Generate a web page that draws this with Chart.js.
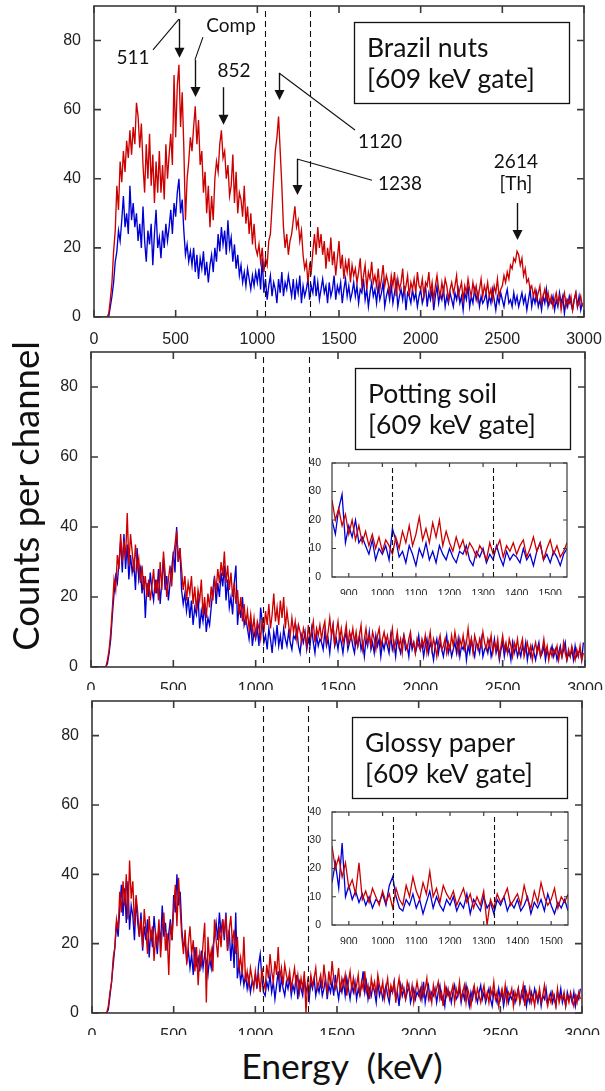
<!DOCTYPE html>
<html>
<head>
<meta charset="utf-8">
<script src="https://cdn.jsdelivr.net/npm/chart.js@4.4.1/dist/chart.umd.min.js"></script>
<style>
  html, body { margin: 0; padding: 0; background: #fff; }
  #page { position: relative; width: 605px; height: 1091px; overflow: hidden; }
  canvas { position: absolute; }
  .title { position: absolute; font-family: Lato, 'Open Sans', sans-serif; color: #111; text-align: center; white-space: pre; }
</style>
</head>
<body>
<div id="page">
  <canvas id="c1" width="565" height="345" style="left:40px;top:0px"></canvas>
  <canvas id="c2" width="565" height="345" style="left:40px;top:345px"></canvas>
  <canvas id="c3" width="565" height="345" style="left:40px;top:690px"></canvas>
  <canvas id="i2" width="275" height="140" style="left:300px;top:455px"></canvas>
  <canvas id="i3" width="275" height="140" style="left:300px;top:804px"></canvas>
  <div class="title" id="ytitle" style="left:-175px;top:474px;width:400px;height:44px;line-height:44px;font-size:36.5px;transform:rotate(-90deg)">Counts per channel</div>
  <div class="title" id="xtitle" style="left:142px;top:1044px;width:400px;height:44px;line-height:44px;font-size:35.5px">Energy  (keV)</div>
</div>
<script>
// 10 keV channels, 0 .. 2990 keV
const energies = Array.from({ length: 300 }, (_, i) => i * 10);

const brazilRed = [
  0,0,0,0,0,0,0,0,0,1, 5,10,19,25,38,31,45,39,48,42,
  51,46,54,47,55,50,62,58,49,56, 44,36,50,40,53,38,47,33,45,36,
  48,36,44,34,50,40,47,53,44,70, 52,67,73,55,65,49,28,40,45,52,
  48,55,61,50,57,44,48,36,42,30, 38,26,35,28,40,45,42,50,54,46,
  48,40,44,35,38,47,33,42,30,36, 34,29,38,27,32,24,30,21,27,20,
  18,21,16,20,13,17,15,22,24,32, 40,48,52,58,48,38,26,20,24,18,
  22,24,28,32,26,28,22,25,18,14, 16,10,15,13,19,24,18,26,20,24,
  18,22,14,20,16,23,15,19,12,17, 22,14,18,11,16,13,17,10,15,12,
  14,10,13,17,9,12,15,8,13,11, 16,10,12,9,14,8,11,15,9,12,
  10,7,12,9,13,6,11,8,10,14, 7,9,12,6,10,8,11,7,13,9,
  8,11,6,10,9,13,7,10,5,9, 12,8,6,10,7,11,9,5,8,10,
  7,9,12,6,8,10,5,9,7,11, 8,6,10,7,9,5,8,11,6,9,
  7,10,6,8,5,9,7,11,6,8, 9,12,10,13,11,15,14,17,16,19,
  18,15,17,12,14,10,11,8,9,6, 8,5,7,9,4,6,8,5,7,4,
  6,3,5,7,4,6,2,5,7,3, 5,4,6,2,5,7,3,4,6,3
];
const brazilBlue = [
  0,0,0,0,0,0,0,0,0,0, 3,6,10,16,19,25,22,28,35,26,
  30,24,38,28,33,26,30,22,27,20, 32,22,16,25,21,27,15,24,31,20,
  23,17,25,20,27,22,26,31,24,33, 29,36,40,30,34,25,18,21,16,19,
  15,20,13,18,11,17,14,19,12,16, 10,15,18,13,20,16,24,19,26,21,
  25,18,28,20,23,16,21,14,18,12, 15,10,13,9,14,11,8,12,9,13,
  10,14,8,17,7,11,5,9,12,6, 10,8,4,11,7,13,6,10,8,12,
  9,6,11,5,10,7,12,4,9,6, 8,11,5,9,7,12,6,10,5,8,
  11,7,9,4,10,6,8,12,5,9, 7,10,4,8,11,6,9,5,7,10,
  6,9,4,8,7,11,5,8,3,7, 10,6,8,4,9,5,7,10,3,6,
  8,5,9,4,7,10,3,6,8,5, 9,2,7,6,4,8,5,7,3,6,
  8,4,6,9,3,7,5,8,2,6, 9,4,7,5,8,3,6,4,7,5,
  3,7,5,8,4,6,2,7,5,9, 3,6,4,8,5,7,3,6,4,5,
  7,3,6,4,8,5,2,6,4,7, 5,3,6,8,4,5,3,7,4,6,
  3,5,7,4,6,2,5,8,3,6, 4,7,3,5,2,6,4,8,3,5,
  4,6,2,5,3,7,4,6,1,5, 3,6,4,2,5,7,3,6,2,4
];
const soilRed = [
  0,0,0,0,0,0,0,0,0,0, 2,5,10,17,25,22,32,28,38,30,
  36,31,44,29,38,33,27,35,28,31, 24,29,22,26,20,25,19,23,28,21,
  25,19,30,22,33,27,20,25,29,23, 31,35,39,30,34,28,22,26,19,24,
  21,26,18,23,16,22,19,25,15,20, 14,21,17,23,19,25,22,28,24,30,
  26,33,24,29,22,27,20,24,18,22, 15,20,13,18,12,16,11,15,10,14,
  9,13,11,8,14,10,16,12,18,11, 15,21,13,17,12,19,14,20,11,16,
  12,9,14,10,13,8,12,10,7,11, 9,6,12,8,10,13,7,11,9,12,
  8,11,13,7,10,14,9,12,6,10, 13,8,11,7,9,12,6,10,8,11,
  7,10,6,9,12,5,8,11,7,9, 6,10,8,5,9,11,6,8,10,7,
  9,6,8,11,5,7,10,6,8,4, 9,7,5,8,10,6,7,4,8,6,
  5,8,6,9,4,7,10,5,8,6, 3,7,9,5,6,8,4,7,5,9,
  6,10,7,4,8,6,9,5,7,11, 6,8,4,9,7,5,8,6,10,7,
  5,8,6,9,4,7,5,8,3,6, 9,5,7,4,8,6,3,7,5,8,
  4,6,8,3,5,7,4,6,2,5, 7,4,6,3,5,8,4,6,2,5,
  3,5,4,6,2,5,3,7,4,2, 5,3,6,4,2,5,3,6,2,4
];
const soilBlue = [
  0,0,0,0,0,0,0,0,0,0, 1,4,8,15,21,26,24,30,36,27,
  38,28,35,25,32,27,30,22,34,25, 28,21,26,14,24,20,27,22,19,25,
  21,28,18,24,31,22,26,19,24,28, 33,27,40,30,34,22,18,21,16,20,
  14,19,12,17,15,20,11,16,13,18, 10,14,12,17,22,26,18,24,20,27,
  23,29,19,25,17,20,15,24,29,12, 18,14,20,12,14,11,8,13,6,10,
  8,11,6,17,13,7,9,5,11,8, 4,10,7,12,6,9,5,11,8,6,
  10,7,5,9,8,11,6,4,9,7, 10,5,8,6,11,7,4,9,6,8,
  7,5,10,6,8,4,9,12,6,8, 5,9,7,4,8,10,5,7,9,6,
  4,8,6,9,5,7,3,8,6,10, 5,7,4,9,6,8,3,7,5,8,
  6,4,9,5,7,3,8,6,4,7, 9,5,6,3,8,5,7,4,6,9,
  5,7,3,6,8,4,7,5,2,6, 8,4,7,5,3,6,9,4,6,3,
  5,7,4,8,3,6,5,7,2,6, 4,8,5,3,7,6,4,8,3,5,
  6,4,7,3,5,8,4,6,2,5, 7,3,6,4,5,2,7,4,6,3,
  5,3,6,4,7,2,5,3,6,4, 2,5,7,3,4,6,2,5,3,4,
  6,3,5,2,4,6,3,5,7,2, 4,3,5,2,6,3,4,5,2,7
];
const paperRed = [
  0,0,0,0,0,0,0,0,0,0, 2,6,9,16,19,27,24,35,29,38,
  31,40,27,44,33,38,25,34,29,22, 27,19,30,24,17,28,21,25,15,23,
  20,27,16,24,29,18,23,11,26,21, 30,37,25,39,30,22,17,24,14,20,
  25,17,21,12,19,8,17,14,20,26, 3,22,15,18,12,27,21,16,25,19,
  27,23,28,18,24,28,20,24,17,22, 13,16,11,22,9,12,8,13,10,7,
  12,8,11,6,13,9,7,14,10,17, 12,9,15,11,19,10,13,8,14,11,
  9,12,7,10,13,8,11,6,10,7, 12,0,9,6,11,8,10,13,7,9,
  11,7,14,9,6,12,8,15,10,7, 9,13,6,10,8,11,5,9,12,7,
  10,6,8,11,5,9,7,12,6,8, 4,10,7,9,5,11,8,6,9,4,
  7,10,5,8,6,9,3,7,10,5, 8,6,4,9,7,5,8,3,6,9,
  6,4,8,5,7,10,4,6,3,8, 5,7,9,4,6,2,8,5,7,4,
  6,8,3,7,5,9,4,6,8,3, 7,5,2,6,8,4,7,5,3,6,
  8,4,6,3,7,5,9,4,6,2, 5,7,4,8,3,6,5,7,2,6,
  4,7,3,5,8,2,6,4,7,3, 5,2,6,4,7,3,5,8,4,2,
  5,3,6,4,2,7,3,5,4,6, 2,5,3,6,4,2,5,3,6,4
];
const paperBlue = [
  0,0,0,0,0,0,0,0,0,0, 1,5,9,14,19,26,22,30,37,28,
  36,26,38,24,31,28,21,33,26,22, 29,18,25,21,27,16,24,19,28,22,
  17,25,20,31,22,26,18,23,27,21, 34,29,40,31,35,24,19,21,15,18,
  13,17,11,19,14,16,12,18,13,17, 15,11,16,13,19,22,26,21,29,23,
  27,21,29,18,24,15,22,13,29,10, 14,9,12,8,11,7,10,6,9,8,
  11,7,14,17,10,6,5,9,7,11, 6,9,4,8,12,6,10,7,5,9,
  7,10,5,8,6,11,4,9,7,5, 10,6,8,4,9,7,10,5,8,6,
  9,5,7,10,4,8,6,9,5,11, 7,4,8,6,9,5,10,7,4,8,
  6,9,4,7,5,8,12,6,9,4, 7,5,8,6,3,9,5,7,4,6,
  8,5,3,7,6,9,4,6,2,8, 5,7,4,6,8,3,5,7,4,6,
  5,7,4,9,3,6,8,4,6,5, 7,3,6,8,4,5,2,7,5,6,
  3,6,8,4,5,7,3,6,4,8, 5,2,6,4,7,5,3,6,8,4,
  6,3,5,7,4,2,6,5,3,7, 4,6,2,5,7,3,5,4,6,3,
  5,7,3,6,4,8,2,5,3,6, 4,7,5,3,6,2,5,4,7,3,
  4,6,3,5,2,6,4,7,3,5, 2,6,4,5,3,6,2,5,4,7
];

const xTicks = [0, 500, 1000, 1500, 2000, 2500, 3000];
const yTicks = [0, 20, 40, 60, 80];
const insetXTicks = [900, 1000, 1100, 1200, 1300, 1400, 1500];
const insetYTicks = [0, 10, 20, 30, 40];
const gateMain = [1045, 1322];
const gateInset = [1030, 1330];
const gateText = '[609 keV gate]';

// peak annotations for the Brazil nuts panel, in keV / counts
const peakNotes = [
  { lines: ['511'],  at: [239, 73.2], lead: [[361, 77.3], [520, 86.2]], arrow: [520, 86.2, 75] },
  { lines: ['Comp'], at: [839, 82.5], lead: [[667, 81.0], [618, 74.4]], arrow: [618, 74.4, 63.7] },
  { lines: ['852'],  at: [857, 69.4], lead: [], arrow: [790, 66.5, 55.6] },
  { lines: ['1120'], at: [1751, 48.9], lead: [[1598, 54.1], [1133, 70.6]], arrow: [1133, 70.6, 62.8] },
  { lines: ['1238'], at: [1873, 36.7], lead: [[1702, 39.6], [1243, 45.7]], arrow: [1243, 45.7, 35.3] },
  { lines: ['2614', '[Th]'], at: [2583, 43.1], lead: [], arrow: [2590, 33.0, 22.3] }
];

const RED = '#cc0000';
const BLUE = '#0000d4';
const TICK_FONT = "'Liberation Sans', Arial, sans-serif";
const NOTE_FONT = "Lato, 'Open Sans', sans-serif";

const pts = (vals, lo = -Infinity, hi = Infinity) =>
  vals.map((v, i) => ({ x: energies[i], y: v })).filter(p => p.x >= lo && p.x <= hi);

// Plugin: gate lines, frame, inward ticks, label box and peak notes
const decorPlugin = {
  id: 'decor',
  afterDatasetsDraw(ch, _args, o) {
    const { ctx: c, chartArea: a, scales: { x, y } } = ch;
    c.save();

    c.strokeStyle = '#111';
    c.lineWidth = o.gateWidth;
    c.setLineDash(o.dash);
    o.gates.forEach(g => {
      const px = Math.round(x.getPixelForValue(g)) + 0.5;
      c.beginPath();
      c.moveTo(px, a.top + o.gateGap);
      c.lineTo(px, a.bottom);
      c.stroke();
    });
    c.setLineDash([]);

    c.strokeStyle = '#3a3a3a';
    c.lineWidth = o.frameWidth;
    c.strokeRect(a.left, a.top, a.width, a.height);
    c.beginPath();
    x.ticks.forEach(t => {
      const px = x.getPixelForValue(t.value);
      c.moveTo(px, a.bottom); c.lineTo(px, a.bottom - o.tick);
      c.moveTo(px, a.top); c.lineTo(px, a.top + o.tick);
    });
    y.ticks.forEach(t => {
      const py = y.getPixelForValue(t.value);
      c.moveTo(a.left, py); c.lineTo(a.left + o.tick, py);
      c.moveTo(a.right, py); c.lineTo(a.right - o.tick, py);
    });
    c.stroke();

    if (o.box) {
      const b = o.box;
      const bx = a.right - b.right, by = a.top + b.top;
      c.fillStyle = '#fff';
      c.fillRect(bx, by, b.w, b.h);
      c.strokeStyle = '#111';
      c.lineWidth = 1.3;
      c.strokeRect(bx + 0.5, by + 0.5, b.w, b.h);
      c.fillStyle = '#111';
      c.font = b.font;
      c.textAlign = 'left';
      c.textBaseline = 'alphabetic';
      b.lines.forEach((s, i) => c.fillText(s, bx + b.pad, by + b.base + i * b.gap));
    }

    if (o.notes) {
      c.strokeStyle = '#111';
      c.fillStyle = '#111';
      c.lineWidth = 1.1;
      c.font = o.noteFont;
      c.textAlign = 'center';
      c.textBaseline = 'alphabetic';
      o.notes.forEach(n => {
        const [tx, ty] = n.at;
        n.lines.forEach((s, i) => c.fillText(s, x.getPixelForValue(tx), y.getPixelForValue(ty) + i * 22));
        if (n.lead.length) {
          c.beginPath();
          n.lead.forEach(([e, v], i) => {
            const px = x.getPixelForValue(e), py = y.getPixelForValue(v);
            i ? c.lineTo(px, py) : c.moveTo(px, py);
          });
          c.stroke();
        }
        const [ae, a0, a1] = n.arrow;
        const ax = Math.round(x.getPixelForValue(ae)) + 0.5;
        const y0 = y.getPixelForValue(a0), y1 = y.getPixelForValue(a1);
        c.lineWidth = 1.4;
        c.beginPath(); c.moveTo(ax, y0); c.lineTo(ax, y1 - 8); c.stroke();
        c.beginPath(); c.moveTo(ax - 5, y1 - 10); c.lineTo(ax + 5, y1 - 10); c.lineTo(ax, y1); c.closePath(); c.fill();
        c.lineWidth = 1.1;
      });
    }
    c.restore();
  }
};

function lineSet(data, color, width) {
  return { data, borderColor: color, borderWidth: width, pointRadius: 0, tension: 0, fill: false };
}

function buildChart(id, red, blue, cfg) {
  return new Chart(document.getElementById(id), {
    type: 'line',
    plugins: [decorPlugin],
    data: {
      datasets: [lineSet(red, RED, cfg.lw), lineSet(blue, BLUE, cfg.lw)]
    },
    options: {
      responsive: false,
      animation: false,
      events: [],
      layout: { padding: { top: cfg.padTop, right: cfg.padRight, left: 0, bottom: 0 } },
      plugins: {
        legend: { display: false },
        tooltip: { enabled: false },
        decor: cfg.decor
      },
      scales: {
        x: {
          type: 'linear',
          min: cfg.xMin, max: cfg.xMax,
          afterBuildTicks: s => { s.ticks = cfg.xTicks.map(v => ({ value: v })); },
          afterFit: s => { s.height = cfg.xHeight; s.paddingLeft = 0; s.paddingRight = 0; },
          ticks: {
            autoSkip: false, maxRotation: 0,
            padding: cfg.xPad,
            color: '#222',
            font: { family: TICK_FONT, size: cfg.fontSize },
            callback: v => String(v)
          },
          grid: { display: false },
          border: { display: false }
        },
        y: {
          min: cfg.yMin, max: cfg.yMax,
          afterBuildTicks: s => { s.ticks = cfg.yTicks.map(v => ({ value: v })); },
          afterFit: s => { s.width = cfg.yWidth; s.paddingTop = 0; s.paddingBottom = 0; },
          ticks: {
            padding: cfg.yPad,
            color: '#222',
            font: { family: TICK_FONT, size: cfg.fontSize },
            callback: v => String(v)
          },
          grid: { display: false },
          border: { display: false }
        }
      }
    }
  });
}

function mainCfg(padTop, padRight, xHeight, yWidth, boxLines, notes) {
  return {
    lw: 1.35, padTop, padRight, xHeight, yWidth,
    xMin: 0, xMax: 3000, yMin: 0, yMax: 90,
    xTicks, yTicks, xPad: 5, yPad: 5, fontSize: 16,
    decor: {
      gates: gateMain, dash: [6, 4], gateWidth: 1.1, gateGap: 5,
      frameWidth: 1.6, tick: 7,
      box: { lines: boxLines, right: 230, top: 16, w: 215, h: 81, pad: 13, base: 35, gap: 31, font: "26.5px Lato, 'Open Sans', sans-serif" },
      notes, noteFont: '19px ' + NOTE_FONT
    }
  };
}

function insetCfg(padTop, padRight, xHeight) {
  return {
    lw: 1.3, padTop, padRight, xHeight, yWidth: 32,
    xMin: 850, xMax: 1550, yMin: 0, yMax: 40,
    xTicks: insetXTicks, yTicks: insetYTicks, xPad: 3, yPad: 3, fontSize: 10.5,
    decor: { gates: gateInset, dash: [5, 3], gateWidth: 1.1, gateGap: 5, frameWidth: 1.2, tick: 4 }
  };
}

buildChart('c1', pts(brazilRed), pts(brazilBlue), mainCfg(6, 21, 28, 54, ['Brazil nuts', gateText], peakNotes));
buildChart('c2', pts(soilRed), pts(soilBlue), mainCfg(7, 20, 23, 51, ['Potting soil', gateText], null));
buildChart('c3', pts(paperRed), pts(paperBlue), mainCfg(11, 23, 22, 52, ['Glossy paper', gateText], null));
buildChart('i2', pts(soilRed, 850, 1550), pts(soilBlue, 850, 1550), insetCfg(8, 8, 18));
buildChart('i3', pts(paperRed, 850, 1550), pts(paperBlue, 850, 1550), insetCfg(8, 7, 19));
</script>
</body>
</html>
